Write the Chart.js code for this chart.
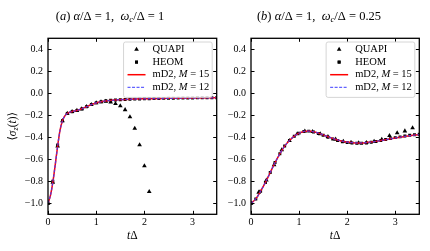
<!DOCTYPE html>
<html lang="en">
<head>
<meta charset="UTF-8">
<title>Sigma z dynamics</title>
<script src="https://cdn.jsdelivr.net/npm/chart.js"></script>
<style>
    body { margin: 0; background: #fff; }
    .wrap { position: relative; width: 430px; height: 251px; overflow: hidden; }
    canvas { position: absolute; top: 0; }
    #chartA { left: 0; }
    #chartB { left: 222px; }
</style>
</head>
<body>
<div class="wrap">
    <canvas id="chartA" width="222" height="251"></canvas>
    <canvas id="chartB" width="208" height="251"></canvas>
</div>
<script>
// ---- data ----
const xTicks = [0, 1, 2, 3];
const yTicks = [-1.0, -0.8, -0.6, -0.4, -0.2, 0.0, 0.2, 0.4];

// panel (a): alpha/Delta = 1, wc/Delta = 1
const aCurveT = [0, 0.05, 0.1, 0.15, 0.2, 0.25, 0.3, 0.35, 0.4, 0.45, 0.5, 0.6, 0.7, 0.8, 0.9, 1.0, 1.1, 1.2, 1.4, 1.6, 1.8, 2.0, 2.5, 3.0, 3.5];
const aM15 = [-1.0, -0.93, -0.81, -0.65, -0.48, -0.335, -0.25, -0.205, -0.183, -0.172, -0.166, -0.156, -0.141, -0.122, -0.103, -0.088, -0.077, -0.069, -0.061, -0.056, -0.052, -0.05, -0.046, -0.042, -0.04];
const aM12 = [-1.0, -0.93, -0.81, -0.65, -0.48, -0.335, -0.25, -0.205, -0.183, -0.172, -0.166, -0.156, -0.141, -0.122, -0.103, -0.088, -0.077, -0.069, -0.061, -0.056, -0.052, -0.05, -0.046, -0.043, -0.041];
const aHeomT = [0, 0.1, 0.2, 0.3, 0.4, 0.5, 0.6, 0.7, 0.8, 0.9, 1.0, 1.1, 1.2, 1.3, 1.4, 1.5, 1.6, 1.7, 1.8, 1.9, 2.0, 2.1, 2.2, 2.3, 2.4, 2.5, 2.6, 2.7, 2.8, 2.9, 3.0, 3.1, 3.2, 3.3, 3.4, 3.5];
const aHeom = [-1.0, -0.8, -0.47, -0.25, -0.183, -0.168, -0.157, -0.142, -0.122, -0.102, -0.087, -0.076, -0.068, -0.064, -0.061, -0.058, -0.056, -0.055, -0.053, -0.052, -0.05, -0.05, -0.048, -0.048, -0.046, -0.045, -0.045, -0.044, -0.043, -0.042, -0.042, -0.041, -0.04, -0.04, -0.04, -0.04];
const aQuapiT = [0, 0.1, 0.2, 0.3, 0.4, 0.5, 0.6, 0.7, 0.8, 0.9, 1.0, 1.1, 1.2, 1.3, 1.4, 1.5, 1.6, 1.7, 1.8, 1.9, 2.0, 2.1];
const aQuapi = [-1.0, -0.81, -0.48, -0.25, -0.183, -0.167, -0.157, -0.142, -0.122, -0.103, -0.088, -0.078, -0.073, -0.08, -0.095, -0.115, -0.15, -0.215, -0.32, -0.47, -0.66, -0.895];

// panel (b): alpha/Delta = 1, wc/Delta = 0.25
const bCurveT = [0, 0.1, 0.2, 0.3, 0.4, 0.5, 0.6, 0.7, 0.8, 0.9, 1.0, 1.1, 1.2, 1.3, 1.4, 1.5, 1.6, 1.7, 1.8, 1.9, 2.0, 2.1, 2.2, 2.3, 2.4, 2.5, 2.6, 2.7, 2.8, 2.9, 3.0, 3.1, 3.2, 3.3, 3.4, 3.5];
const bM15 = [-1.0, -0.96, -0.89, -0.81, -0.72, -0.63, -0.55, -0.48, -0.43, -0.39, -0.362, -0.347, -0.343, -0.35, -0.362, -0.378, -0.395, -0.41, -0.424, -0.435, -0.443, -0.448, -0.451, -0.451, -0.448, -0.443, -0.437, -0.43, -0.422, -0.414, -0.406, -0.399, -0.392, -0.386, -0.38, -0.375];
const bM12 = [-1.0, -0.96, -0.89, -0.81, -0.72, -0.63, -0.55, -0.48, -0.43, -0.39, -0.362, -0.347, -0.343, -0.35, -0.362, -0.378, -0.395, -0.41, -0.424, -0.435, -0.443, -0.448, -0.451, -0.451, -0.448, -0.443, -0.437, -0.43, -0.422, -0.414, -0.406, -0.399, -0.392, -0.386, -0.38, -0.375];
const bHeomT = [0, 0.1, 0.2, 0.3, 0.4, 0.5, 0.6, 0.7, 0.8, 0.9, 1.0, 1.1, 1.2, 1.3, 1.4, 1.5, 1.6, 1.7, 1.8, 1.9, 2.0, 2.1, 2.2, 2.3, 2.4, 2.5, 2.6, 2.7, 2.8, 2.9, 3.0, 3.1, 3.2, 3.3, 3.4, 3.5];
const bHeom = [-1.0, -0.96, -0.89, -0.81, -0.72, -0.63, -0.55, -0.48, -0.43, -0.39, -0.362, -0.348, -0.344, -0.352, -0.366, -0.382, -0.4, -0.415, -0.43, -0.44, -0.447, -0.452, -0.455, -0.455, -0.452, -0.445, -0.438, -0.43, -0.42, -0.412, -0.403, -0.396, -0.388, -0.381, -0.376, -0.372];
const bQuapiT = [0, 0.16, 0.32, 0.48, 0.64, 0.8, 0.96, 1.12, 1.28, 1.44, 1.6, 1.76, 1.92, 2.08, 2.24, 2.4, 2.56, 2.72, 2.88, 3.04, 3.2, 3.36];
const bQuapi = [-1.0, -0.9, -0.79, -0.65, -0.515, -0.43, -0.37, -0.345, -0.348, -0.37, -0.395, -0.418, -0.437, -0.447, -0.451, -0.448, -0.438, -0.42, -0.385, -0.36, -0.343, -0.315];

const legendLabels = ['QUAPI', 'HEOM', 'mD2, M = 15', 'mD2, M = 12'];

// ---- drawing helpers ----
const FONT = '"Liberation Serif", "DejaVu Serif", serif';
Chart.defaults.font.family = FONT;
Chart.defaults.color = '#000';

function pts(xs, ys) {
    return xs.map((x, i) => ({ x: x, y: ys[i] }));
}

// runs: [text, italic, sub]
function runsWidth(ctx, runs, size) {
    let w = 0;
    runs.forEach(r => {
        const s = r[2] ? size * 0.7 : size;
        ctx.font = (r[1] ? 'italic ' : '') + s + 'px ' + FONT;
        w += ctx.measureText(r[0]).width;
    });
    return w;
}

function drawRuns(ctx, runs, x, y, size, align) {
    let w = runsWidth(ctx, runs, size);
    let cx = align === 'center' ? x - w / 2 : x;
    ctx.textBaseline = 'middle';
    ctx.textAlign = 'left';
    ctx.fillStyle = '#000';
    runs.forEach(r => {
        const s = r[2] ? size * 0.7 : size;
        ctx.font = (r[1] ? 'italic ' : '') + s + 'px ' + FONT;
        ctx.fillText(r[0], cx, r[2] ? y + size * 0.25 : y);
        cx += ctx.measureText(r[0]).width;
    });
}

function legendRuns(label) {
    if (label.indexOf('M =') < 0) return [[label, false]];
    const p = label.split('M');
    return [[p[0], false], ['M', true], [p[1], false]];
}

const decorPlugin = {
    id: 'decor',
    afterDraw(chart, args, opts) {
        const ctx = chart.ctx;
        const a = chart.chartArea;
        const xs = chart.scales.x, ys = chart.scales.y;
        ctx.save();
        // inward ticks on all four sides
        ctx.strokeStyle = '#000';
        ctx.lineWidth = 1;
        const tl = 3.5;
        ctx.beginPath();
        xTicks.forEach(v => {
            const px = Math.round(xs.getPixelForValue(v)) + 0.5;
            ctx.moveTo(px, a.bottom); ctx.lineTo(px, a.bottom - tl);
            ctx.moveTo(px, a.top); ctx.lineTo(px, a.top + tl);
        });
        yTicks.forEach(v => {
            const py = Math.round(ys.getPixelForValue(v)) + 0.5;
            ctx.moveTo(a.left, py); ctx.lineTo(a.left + tl, py);
            ctx.moveTo(a.right, py); ctx.lineTo(a.right - tl, py);
        });
        ctx.stroke();
        // frame
        ctx.lineWidth = 1.3;
        ctx.strokeRect(a.left, a.top, a.right - a.left, a.bottom - a.top);

        // title and axis labels
        drawRuns(ctx, opts.title, opts.titleX, 17, 12.5, 'center');
        drawRuns(ctx, [['t', true], ['Δ', false]], (a.left + a.right) / 2, 236, 11.5, 'center');
        if (opts.ylabel) {
            ctx.save();
            ctx.translate(13, (a.top + a.bottom) / 2);
            ctx.rotate(-Math.PI / 2);
            drawRuns(ctx, [['⟨', false], ['σ', true], ['z', true, true], ['(', false], ['t', true], [')⟩', false]], 0, 0, 11.5, 'center');
            ctx.restore();
        }

        // legend box, upper right
        const fs = 10.5, rowH = 12.6, handle = 18;
        let tw = 0;
        legendLabels.forEach(l => { tw = Math.max(tw, runsWidth(ctx, legendRuns(l), fs)); });
        const bw = 4 + handle + 7 + tw + 3;
        const bh = 4 * rowH + 5;
        const bx = a.right - 4.5 - bw, by = a.top + 3.7;
        ctx.beginPath();
        ctx.roundRect(bx, by, bw, bh, 2);
        ctx.fillStyle = 'rgba(255,255,255,0.8)';
        ctx.fill();
        ctx.strokeStyle = '#cccccc';
        ctx.lineWidth = 0.8;
        ctx.stroke();
        const ds = chart.data.datasets;
        const hx = bx + 4, hc = hx + handle / 2;
        legendLabels.forEach((l, i) => {
            const cy = by + 7.5 + i * rowH;
            const d = ds.find(s => s.label === l);
            ctx.save();
            if (d.showLine) {
                ctx.strokeStyle = d.borderColor;
                ctx.lineWidth = d.borderWidth;
                ctx.setLineDash(d.borderDash || []);
                ctx.beginPath();
                ctx.moveTo(hx, cy); ctx.lineTo(hx + handle, cy);
                ctx.stroke();
            } else {
                Chart.helpers.drawPoint(ctx, { pointStyle: d.pointStyle, radius: d.pointRadius, borderWidth: 0 }, hc, cy);
                ctx.fillStyle = '#000';
                ctx.fill();
            }
            ctx.restore();
            drawRuns(ctx, legendRuns(l), hx + handle + 7, cy, fs, 'left');
        });
        ctx.restore();
    }
};

function makeChart(id, curveT, m15, m12, heomT, heom, quapiT, quapi, axisW, padRight, title, titleX, ylabel) {
    const ctx = document.getElementById(id).getContext('2d');
    return new Chart(ctx, {
        type: 'scatter',
        data: {
            datasets: [
                { label: 'mD2, M = 12', data: pts(curveT, m12), showLine: true, borderColor: 'rgba(60,60,255,0.8)', borderWidth: 1.3, borderDash: [3, 1.5], pointRadius: 0, cubicInterpolationMode: 'monotone', order: 0 },
                { label: 'mD2, M = 15', data: pts(curveT, m15), showLine: true, borderColor: '#ff0000', borderWidth: 1.5, pointRadius: 0, cubicInterpolationMode: 'monotone', order: 1 },
                { label: 'HEOM', data: pts(heomT, heom), showLine: false, pointStyle: 'rect', pointRadius: 2.1, backgroundColor: '#000', borderWidth: 0, order: 2 },
                { label: 'QUAPI', data: pts(quapiT, quapi), showLine: false, pointStyle: 'triangle', pointRadius: 2.7, backgroundColor: '#000', borderWidth: 0, order: 3 }
            ]
        },
        options: {
            responsive: false,
            animation: false,
            devicePixelRatio: 1,
            layout: { autoPadding: false, padding: { left: 0, right: padRight, top: 38.3, bottom: 0 } },
            plugins: {
                legend: { display: false },
                tooltip: { enabled: false },
                decor: { title: title, titleX: titleX, ylabel: ylabel }
            },
            scales: {
                x: {
                    type: 'linear', min: 0, max: 3.5,
                    afterBuildTicks: s => { s.ticks = xTicks.map(v => ({ value: v })); },
                    afterFit: s => { s.height = 36.7; },
                    grid: { display: false, drawTicks: false },
                    border: { display: false },
                    ticks: { padding: 2.5, font: { size: 10 }, callback: v => String(v) }
                },
                y: {
                    type: 'linear', min: -1.1, max: 0.5,
                    afterBuildTicks: s => { s.ticks = yTicks.map(v => ({ value: v })); },
                    afterFit: s => { s.width = axisW; },
                    grid: { display: false, drawTicks: false },
                    border: { display: false },
                    ticks: { padding: 5, font: { size: 10 }, callback: v => v.toFixed(1).replace('-', '\u2212') }
                }
            }
        },
        plugins: [decorPlugin]
    });
}

makeChart('chartA', aCurveT, aM15, aM12, aHeomT, aHeom, aQuapiT, aQuapi, 48, 5.3,
    [['(', false], ['a', true], [') ', false], ['α', true], ['/Δ = 1,  ', false], ['ω', true], ['c', true, true], ['/Δ = 1', false]], 110, true);
makeChart('chartB', bCurveT, bM15, bM12, bHeomT, bHeom, bQuapiT, bQuapi, 29, 10.7,
    [['(', false], ['b', true], [') ', false], ['α', true], ['/Δ = 1,  ', false], ['ω', true], ['c', true, true], ['/Δ = 0.25', false]], 97, false);
</script>
</body>
</html>
